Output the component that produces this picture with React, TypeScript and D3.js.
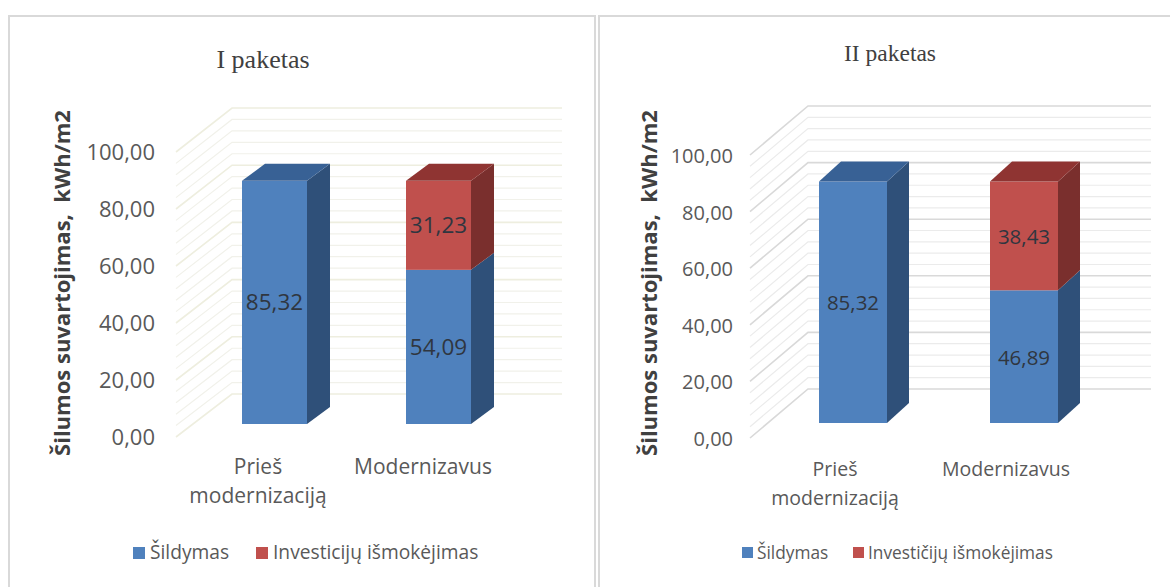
import React from 'react';
import * as d3 from 'd3';

const categories = ['Prieš modernizaciją', 'Modernizavus'];
const seriesNames1 = ['Šildymas', 'Investicijų išmokėjimas'];
const seriesNames2 = ['Šildymas', 'Investičijų išmokėjimas'];
const seriesColors = ['#4f81bd', '#c0504d'];
const sideColors = ['#2f5079', '#7a2f2d'];
const topColors = ['#386195', '#8f3432'];

const heating1 = [85.32, 54.09];
const invest1 = [0, 31.23];
const heating2 = [85.32, 46.89];
const invest2 = [0, 38.43];
const yTicks = [0, 20, 40, 60, 80, 100];
const minorStep = 4;

const fmt = (v: number) => v.toFixed(2).replace('.', ',');
const sans = '"Open Sans", "Noto Sans", sans-serif';

interface PanelProps {
  title: string;
  titleX: number;
  titleY: number;
  titleSize: number;
  heating: number[];
  invest: number[];
  names: string[];
  frame: [number, number];
  front: { x: number; y0: number; y100: number };
  back: { x: number; y0: number; y100: number; end: number };
  barBottom: number;
  bars: [number, number];
  barWidth: number;
  depth: [number, number];
  major: string;
  minor: string;
  tickX: number;
  tickSize: number;
  labelSize: number;
  yTitleX: number;
  catY: number;
  catSize: number;
  catCenters: [number, number];
  legendX: [number, number];
  legendY: number;
  legendSize: number;
  swatch: number;
  legendGap: number;
}

const Panel: React.FC<PanelProps> = (p) => {
  const unit = (p.front.y0 - p.front.y100) / 100;
  const yFront = d3.scaleLinear().domain([0, 100]).range([p.front.y0, p.front.y100]);
  const yBack = d3.scaleLinear().domain([0, 100]).range([p.back.y0, p.back.y100]);
  // bar heights use the front plane scale, from the bar's own floor line
  const yBar = d3.scaleLinear().domain([0, 100]).range([p.barBottom, p.barBottom - unit * 100]);
  const grid = d3.range(0, 100 + minorStep, minorStep);
  const [dx, dy] = p.depth;

  return (
    <g>
      <rect x={p.frame[0]} y={16} width={p.frame[1] - p.frame[0]} height={590} fill="#fff" stroke="#d9d9d9" strokeWidth={2} />
      <text x={p.titleX} y={p.titleY} fontFamily='"Liberation Serif", serif' fontSize={p.titleSize} fill="#404040" textAnchor="middle">
        {p.title}
      </text>
      {grid.map((v) => {
        const isMajor = v % 20 === 0;
        return (
          <path
            key={v}
            d={`M${p.front.x},${yFront(v)}L${p.back.x},${yBack(v)}H${p.back.end}`}
            fill="none"
            stroke={isMajor ? p.major : p.minor}
            strokeWidth={isMajor ? 1.6 : 1.2}
          />
        );
      })}
      {yTicks.map((v) => (
        <text key={v} x={p.tickX} y={yFront(v) + 8} fontFamily={sans} fontSize={p.tickSize} fill="#595959" textAnchor="end">
          {fmt(v)}
        </text>
      ))}
      <text
        transform={`translate(${p.yTitleX},283) rotate(-90)`}
        fontFamily={sans}
        fontSize={22}
        fontWeight={700}
        fill="#404040"
        textAnchor="middle"
        xmlSpace="preserve"
      >
        Šilumos suvartojimas,  kWh/m2
      </text>
      {p.bars.map((x, i) => {
        const segs = [
          { v0: 0, v1: p.heating[i], s: 0 },
          { v0: p.heating[i], v1: p.heating[i] + p.invest[i], s: 1 },
        ].filter((d) => d.v1 > d.v0);
        const topSeg = segs[segs.length - 1];
        const xr = x + p.barWidth;
        return (
          <g key={categories[i]}>
            {segs.map((d) => (
              <g key={d.s}>
                <polygon
                  points={`${xr},${yBar(d.v0)} ${xr + dx},${yBar(d.v0) - dy} ${xr + dx},${yBar(d.v1) - dy} ${xr},${yBar(d.v1)}`}
                  fill={sideColors[d.s]}
                />
                <rect x={x} y={yBar(d.v1)} width={p.barWidth} height={yBar(d.v0) - yBar(d.v1)} fill={seriesColors[d.s]} />
              </g>
            ))}
            <polygon
              points={`${x},${yBar(topSeg.v1)} ${x + dx},${yBar(topSeg.v1) - dy} ${xr + dx},${yBar(topSeg.v1) - dy} ${xr},${yBar(topSeg.v1)}`}
              fill={topColors[topSeg.s]}
            />
            {segs.map((d) => (
              <text
                key={d.s}
                x={x + p.barWidth / 2}
                y={yBar((d.v0 + d.v1) / 2) + 8}
                fontFamily={sans}
                fontSize={p.labelSize}
                fill="#2f3640"
                textAnchor="middle"
              >
                {fmt(d.v1 - d.v0)}
              </text>
            ))}
          </g>
        );
      })}
      <text fontFamily={sans} fontSize={p.catSize} fill="#595959" textAnchor="middle">
        <tspan x={p.catCenters[0]} y={p.catY}>Prieš</tspan>
        <tspan x={p.catCenters[0]} y={p.catY + 29}>modernizaciją</tspan>
        <tspan x={p.catCenters[1]} y={p.catY}>{categories[1]}</tspan>
      </text>
      {p.names.map((name, i) => (
        <g key={name}>
          <rect x={p.legendX[i]} y={p.legendY - 10} width={p.swatch} height={p.swatch} fill={seriesColors[i]} />
          <text x={p.legendX[i] + p.legendGap} y={p.legendY + 2} fontFamily={sans} fontSize={p.legendSize} fill="#595959">
            {name}
          </text>
        </g>
      ))}
    </g>
  );
};

const App: React.FC = () => (
  <svg
    width={1170}
    height={587}
    viewBox="0 0 1170 587"
    style={{ position: 'absolute', left: 0, top: 0, background: '#fff' }}
  >
    <Panel
      title="I paketas"
      titleX={263}
      titleY={68}
      titleSize={26}
      heating={heating1}
      invest={invest1}
      names={seriesNames1}
      frame={[9, 595]}
      front={{ x: 176, y0: 437, y100: 152 }}
      back={{ x: 232, y0: 394, y100: 108, end: 562 }}
      barBottom={424}
      bars={[242, 406]}
      barWidth={65}
      depth={[23, 17]}
      major="#eeeedf"
      minor="#f1f1ea"
      tickX={155}
      tickSize={22}
      labelSize={22.5}
      yTitleX={70}
      catY={474}
      catSize={21}
      catCenters={[258, 423]}
      legendX={[133, 256]}
      legendY={557}
      legendSize={19.2}
      swatch={12}
      legendGap={17}
    />
    <Panel
      title="II paketas"
      titleX={890}
      titleY={61}
      titleSize={23.5}
      heating={heating2}
      invest={invest2}
      names={seriesNames2}
      frame={[599, 1172]}
      front={{ x: 750, y0: 438, y100: 155 }}
      back={{ x: 808, y0: 389, y100: 106, end: 1151 }}
      barBottom={423}
      bars={[819, 990]}
      barWidth={68}
      depth={[22, 20]}
      major="#d9d9d9"
      minor="#ebebeb"
      tickX={733}
      tickSize={20}
      labelSize={20.5}
      yTitleX={657}
      catY={476}
      catSize={19.5}
      catCenters={[835, 1006]}
      legendX={[742, 853]}
      legendY={557}
      legendSize={17.3}
      swatch={11}
      legendGap={15}
    />
  </svg>
);

export default App;
